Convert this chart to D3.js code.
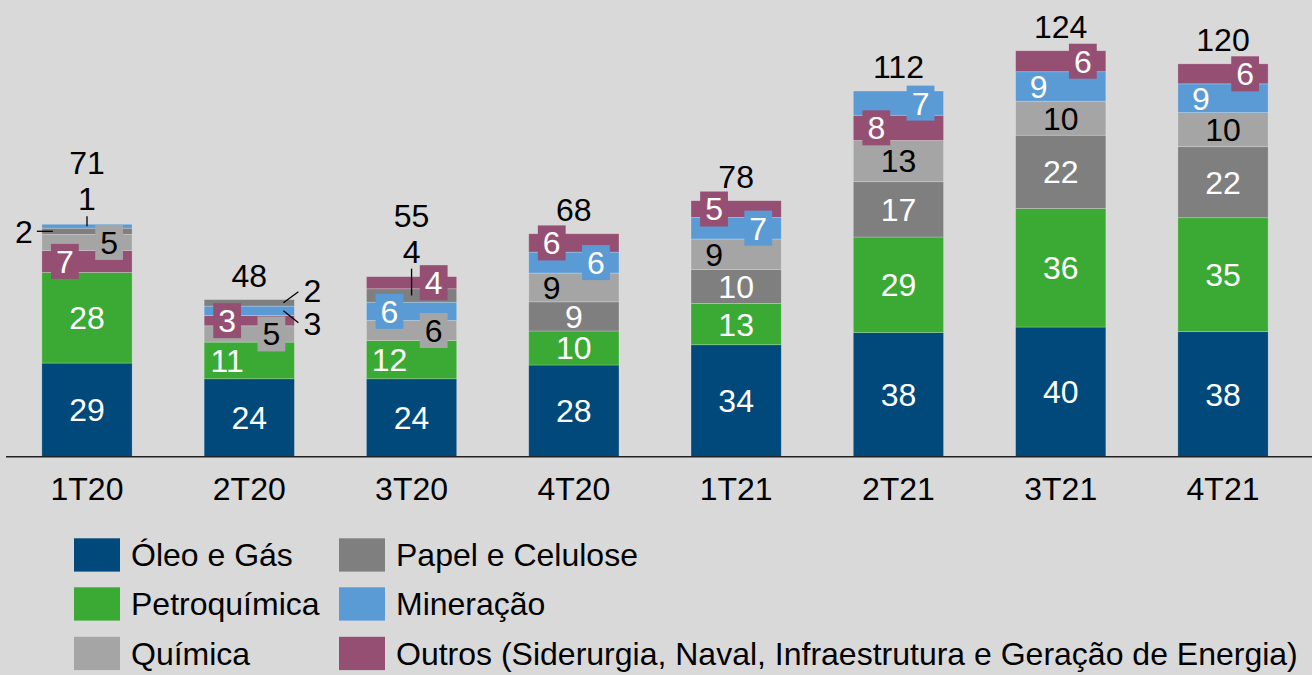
<!DOCTYPE html>
<html>
<head>
<meta charset="utf-8">
<script src="https://cdn.jsdelivr.net/npm/d3@7"></script>
<style>
  html, body { margin: 0; padding: 0; background: #D9D9D9; }
  svg { display: block; }
  text { font-family: "Liberation Sans", Arial, sans-serif; }
</style>
</head>
<body>
<svg id="chart" width="1312" height="675"></svg>
<script>
// ---- data ----
const categories = ["1T20", "2T20", "3T20", "4T20", "1T21", "2T21", "3T21", "4T21"];
const seriesNames = [
  "Óleo e Gás",
  "Petroquímica",
  "Química",
  "Papel e Celulose",
  "Mineração",
  "Outros (Siderurgia, Naval, Infraestrutura e Geração de Energia)"
];
const oleoGas   = [28.6, 23.8, 23.8, 28.0, 34.2, 37.9, 39.6, 38.2];
const petroquim = [27.7, 11.2, 11.7, 10.4, 12.6, 29.2, 36.2, 34.8];
const quimica   = [4.9, 5.0, 6.1, 8.8, 9.3, 12.6, 10.4, 10.4];
const papel     = [1.9, 2.0, 4.1, 8.9, 10.4, 16.9, 22.4, 21.7];
const mineracao = [1.2, 2.9, 5.6, 6.4, 6.6, 7.4, 9.0, 8.8];
const outros    = [6.7, 3.1, 3.7, 5.6, 5.1, 7.7, 6.4, 6.1];
const seriesValues = [oleoGas, petroquim, quimica, papel, mineracao, outros];

// ---- style / layout config (not data) ----
const colors = ["#00497A", "#3BAA35", "#A5A5A5", "#7F7F7F", "#5B9BD5", "#954F72"];
const textColors = ["#fff", "#fff", "#000", "#fff", "#fff", "#fff"];
// label placement per category, in series order
const labelModes = [
  ["c", "c", "r", "ol", "ot", "l"],
  ["c", "l", "r", "ort", "orb", "l"],
  ["c", "l", "r", "ot", "l", "r"],
  ["c", "c", "l", "c", "r", "l"],
  ["c", "c", "l", "c", "r", "l"],
  ["c", "c", "c", "c", "r", "l"],
  ["c", "c", "c", "c", "l", "r"],
  ["c", "c", "c", "c", "l", "r"]
];

const FS = 32;
const CAPOFF = 11.4;
const svg = d3.select("#chart");

const x = d3.scaleBand().domain(categories).range([5.85, 1304.15])
  .paddingInner(0.444).paddingOuter(0.222);
const y = d3.scaleLinear().domain([0, 139.5]).range([456.7, 0]);

// build stacks per category, sorted descending from bottom
const stacks = categories.map((cat, ci) => {
  const idx = d3.range(seriesNames.length).sort((a, b) => seriesValues[b][ci] - seriesValues[a][ci]);
  let acc = 0;
  const segs = idx.map(si => {
    const v = seriesValues[si][ci];
    const s = { cat, ci, si, v, y0: acc, y1: acc + v };
    acc += v;
    return s;
  });
  return { cat, ci, segs, total: acc };
});

const gBars = svg.append("g");
const gBoxes = svg.append("g");
const gLabels = svg.append("g");

stacks.forEach(st => {
  const x0 = x(st.cat), x1 = x0 + x.bandwidth(), xc = x0 + x.bandwidth() / 2;
  gBars.selectAll(null).data(st.segs).enter().append("rect")
    .attr("x", x0)
    .attr("width", x.bandwidth())
    .attr("y", d => y(d.y1))
    .attr("height", d => y(d.y0) - y(d.y1))
    .attr("fill", d => colors[d.si])
    .attr("stroke", "rgba(255,255,255,0.28)")
    .attr("stroke-width", 0.8);

  const barTop = y(st.total);
  let topMost = barTop - 13;

  st.segs.forEach(d => {
    const mode = labelModes[st.ci][d.si];
    const label = d3.format(".0f")(d.v);
    const cy = (y(d.y0) + y(d.y1)) / 2;
    const hpx = y(d.y0) - y(d.y1);
    if (mode === "c" || mode === "l" || mode === "r") {
      const tx = mode === "c" ? xc : (mode === "l" ? x0 + 23 : x1 - 23);
      const t = gLabels.append("text")
        .attr("x", tx).attr("y", cy + CAPOFF)
        .attr("text-anchor", "middle")
        .attr("font-size", FS)
        .attr("fill", textColors[d.si])
        .text(label);
      if (hpx < 27 && mode !== "c") {
        const w = t.node().getComputedTextLength() + 10;
        gBoxes.append("rect")
          .attr("x", tx - w / 2).attr("y", cy - 17.5)
          .attr("width", w).attr("height", 35)
          .attr("fill", colors[d.si]);
      }
    } else if (mode === "ol") {
      gLabels.append("text")
        .attr("x", x0 - 9).attr("y", cy + CAPOFF)
        .attr("text-anchor", "end").attr("font-size", FS).attr("fill", "#000")
        .text(label);
      gLabels.append("line")
        .attr("x1", x0 - 5).attr("x2", x0 + 11).attr("y1", cy).attr("y2", cy)
        .attr("stroke", "#000").attr("stroke-width", 1.3);
    } else if (mode === "ot") {
      const base = barTop - 14;
      gLabels.append("text")
        .attr("x", xc).attr("y", base)
        .attr("text-anchor", "middle").attr("font-size", FS).attr("fill", "#000")
        .text(label);
      gLabels.append("line")
        .attr("x1", xc).attr("x2", xc).attr("y1", barTop - 8).attr("y2", cy)
        .attr("stroke", "#000").attr("stroke-width", 1.3);
      topMost = Math.min(topMost, base - 23 - 13);
    } else if (mode === "ort" || mode === "orb") {
      const ly = mode === "ort" ? cy - 12 : cy + 13;
      gLabels.append("text")
        .attr("x", x1 + 9).attr("y", ly + CAPOFF)
        .attr("text-anchor", "start").attr("font-size", FS).attr("fill", "#000")
        .text(label);
      gLabels.append("line")
        .attr("x1", x1 - 11).attr("y1", cy)
        .attr("x2", x1 + 4).attr("y2", mode === "ort" ? ly + 1 : ly - 1)
        .attr("stroke", "#000").attr("stroke-width", 1.3);
    }
  });

  gLabels.append("text")
    .attr("x", xc).attr("y", topMost)
    .attr("text-anchor", "middle").attr("font-size", FS).attr("fill", "#000")
    .text(d3.format(".0f")(st.total));
});

// axis
const axisG = svg.append("g").attr("transform", "translate(0,456.7)");
axisG.append("line").attr("x1", 6).attr("x2", 1312).attr("y1", 0).attr("y2", 0)
  .attr("stroke", "#222").attr("stroke-width", 1.6);
axisG.selectAll(".tick").data(categories).enter().append("text")
  .attr("x", d => x(d) + x.bandwidth() / 2)
  .attr("y", 43.3)
  .attr("text-anchor", "middle").attr("font-size", FS).attr("fill", "#000")
  .text(d => d);

// legend
const legend = svg.append("g");
const colX = [74, 339];
const rowY = [555, 604, 653.5];
seriesNames.forEach((name, i) => {
  const cx = colX[Math.floor(i / 3)], cy = rowY[i % 3];
  legend.append("rect").attr("x", cx).attr("y", cy - 16.7)
    .attr("width", 46).attr("height", 33.3).attr("fill", colors[i]);
  legend.append("text").attr("x", cx + 57).attr("y", cy + CAPOFF)
    .attr("font-size", FS).attr("fill", "#000").text(name);
});
</script>
</body>
</html>
